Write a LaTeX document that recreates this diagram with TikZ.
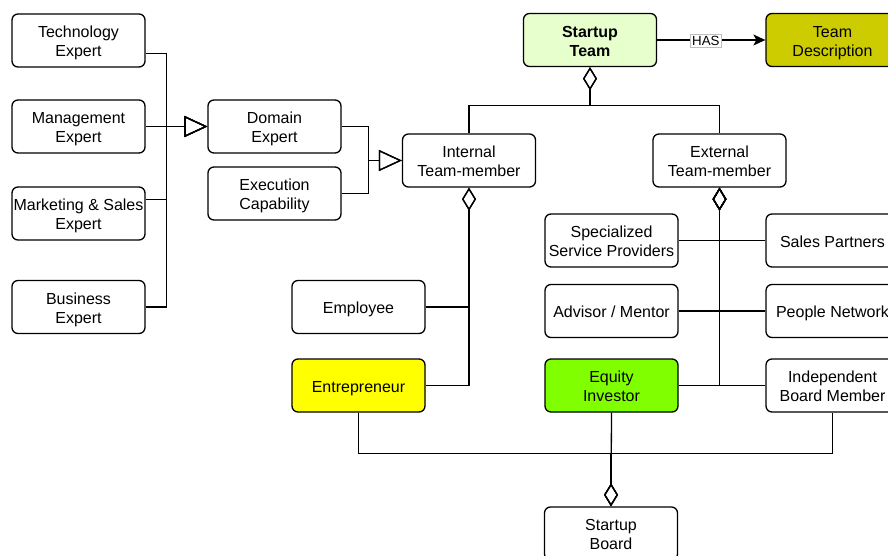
\documentclass[tikz,border=0pt]{standalone}
\usepackage{fontspec}
\setmainfont{Liberation Sans}
\usetikzlibrary{arrows.meta}

\definecolor{teamfill}{HTML}{E6FFCC}
\definecolor{descfill}{HTML}{CCCC00}
\definecolor{equityfill}{HTML}{80FF00}
\definecolor{entrefill}{HTML}{FFFF00}

% invisible struts: the first one 17pt above the baseline and 3.6pt below,
% the second one only 3.6pt below
\newcommand\boxstrut{\rule[-3.6pt]{0pt}{20.6pt}}
\newcommand\boxdepth{\rule[-3.6pt]{0pt}{3.6pt}}
% two centred lines, padded so that the pair sits centred like a line box
\newcommand\twolines[2]{\boxstrut#1\\#2\boxdepth}

\tikzset{
  box/.style={draw, line width=1.3pt, rounded corners=6pt, fill=white,
    minimum width=133pt, minimum height=53pt, inner sep=0pt,
    align=center, font=\fontsize{16}{19}\selectfont,
    execute at begin node=\boxstrut},
  link/.style={draw, line width=1.3pt},
  genlink/.style={link, -{Triangle[open, length=23pt, width=21pt]}},
  agglink/.style={link, -{Diamond[open, length=23pt, width=14pt]}},
  haslink/.style={link, -{Stealth[length=12pt, width=11pt, inset=3pt]}},
  haslabel/.style={draw=black!25, line width=0.6pt, fill=white, inner sep=1.5pt,
    font=\fontsize{13.3}{15}\selectfont, yshift=-1pt},
}

\begin{document}
\begin{tikzpicture}[x=1pt, y=1pt]
\useasboundingbox (0,0) rectangle (888,-556);

% expertise boxes on the left
\node[box] (tech) at (78.5,-40.5)  {\twolines{Technology}{Expert}};
\node[box] (mgmt) at (78.5,-126.5) {\twolines{Management}{Expert}};
\node[box] (mkt)  at (78.5,-213.5) {\twolines{Marketing \& Sales}{Expert}};
\node[box] (biz)  at (78.5,-307)   {\twolines{Business}{Expert}};

\node[box] (dom) at (274.5,-126.5) {\twolines{Domain}{Expert}};
\node[box] (exe) at (274.5,-193.5) {\twolines{Execution}{Capability}};

\node[box] (int) at (469,-160.5)   {\twolines{Internal}{Team-member}};
\node[box] (ext) at (719.5,-160.5) {\twolines{External}{Team-member}};

\node[box, fill=teamfill, font=\fontsize{16}{19}\selectfont\bfseries] (team) at (590,-40) {\twolines{Startup}{Team}};
\node[box, fill=descfill] (desc) at (832.5,-40) {\twolines{Team}{Description}};

\node[box] (spec)  at (611.5,-240.5) {\twolines{Specialized}{Service Providers}};
\node[box] (sales) at (832.5,-240.5) {Sales Partners};
\node[box] (adv)   at (611.5,-311)   {Advisor / Mentor};
\node[box] (ppl)   at (832.5,-311)   {People Network};
\node[box] (emp)   at (358.5,-307)   {Employee};
\node[box, fill=entrefill] (ent) at (358.5,-385.5) {Entrepreneur};
\node[box, fill=equityfill] (eq) at (611.5,-385.5) {\twolines{Equity}{Investor}};
\node[box] (ind)   at (832.5,-385.5) {\twolines{Independent}{Board Member}};
\node[box] (board) at (611,-533.5)   {\twolines{Startup}{Board}};

% generalisation into Domain Expert
\draw[genlink] ([yshift=14pt]tech.south east) -- ++(21,0) |- (dom.west);
\draw[genlink] (mgmt.east) -- (dom.west);
\draw[genlink] ([yshift=-13pt]mkt.north east) -- ++(21,0) |- (dom.west);
\draw[genlink] (biz.east) -- ++(21,0) |- (dom.west);

% generalisation into Internal Team-member
\draw[genlink] (dom.east) -- ++(27,0) |- (int.west);
\draw[genlink] (exe.east) -- ++(27,0) |- (int.west);

% team composition
\draw[agglink] (int.north) -- ++(0,28) -| (team.south);
\draw[agglink] (ext.north) -- ++(0,28) -| (team.south);
\draw[haslink] (team.east) -- node[haslabel, pos=0.45] {HAS} (desc.west);

% internal members
\draw[agglink] (emp.east) -| (int.south);
\draw[agglink] (ent.east) -| (int.south);

% external members
\draw[agglink] (spec.east)  -| (ext.south);
\draw[agglink] (sales.west) -| (ext.south);
\draw[agglink] (adv.east)   -| (ext.south);
\draw[agglink] (ppl.west)   -| (ext.south);
\draw[agglink] (eq.east)    -| (ext.south);
\draw[agglink] (ind.west)   -| (ext.south);

% board composition
\draw[agglink] (ent.south) -- ++(0,-41) -| (board.north);
\draw[agglink] (eq.south) -- (board.north);
\draw[agglink] (ind.south) -- ++(0,-41) -| (board.north);
\end{tikzpicture}
\end{document}
